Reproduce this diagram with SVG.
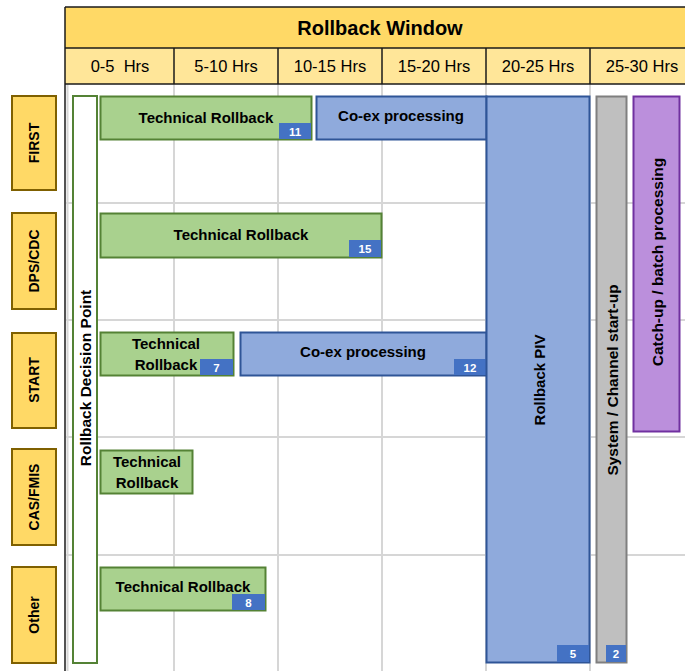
<svg xmlns="http://www.w3.org/2000/svg" width="685" height="671" viewBox="0 0 685 671">
  <style>
    text { font-family: "Liberation Sans", Arial, sans-serif; fill: #000; }
    .title { font-size: 20px; font-weight: bold; text-anchor: middle; }
    .col { font-size: 16.5px; text-anchor: middle; white-space: pre; }
    .lbl { font-size: 15px; font-weight: bold; text-anchor: middle; }
    .vlbl { font-size: 15.5px; font-weight: bold; text-anchor: middle; }
    .row { font-size: 14px; font-weight: bold; text-anchor: middle; }
    .badge-t { font-size: 11.5px; font-weight: bold; fill: #fff; text-anchor: middle; }
    .grid { stroke: #d6d6d6; stroke-width: 2; fill: none; }
    .hdr { stroke: #1a1a1a; stroke-width: 1.5; }
    .rowbox { fill: #ffd966; stroke: #7f6000; stroke-width: 2; }
    .green { fill: #a9d18e; stroke: #548235; stroke-width: 2; }
    .blue { fill: #8faadc; stroke: #2f5597; stroke-width: 2; }
    .grey { fill: #bfbfbf; stroke: #7f7f7f; stroke-width: 2; }
    .purple { fill: #bb8fdc; stroke: #7030a0; stroke-width: 2; }
    .badge { fill: #4472c4; }
  </style>

  <rect x="0" y="0" width="685" height="671" fill="#fff"/>

  <!-- background grid -->
  <g id="grid">
    <line class="grid" x1="67.5" y1="84" x2="67.5" y2="671"/>
    <line class="grid" x1="174" y1="84" x2="174" y2="671"/>
    <line class="grid" x1="278" y1="84" x2="278" y2="671"/>
    <line class="grid" x1="382" y1="84" x2="382" y2="671"/>
    <line class="grid" x1="486" y1="84" x2="486" y2="671"/>
    <line class="grid" x1="590" y1="84" x2="590" y2="671"/>
    <line class="grid" x1="66" y1="203" x2="685" y2="203"/>
    <line class="grid" x1="66" y1="320" x2="685" y2="320"/>
    <line class="grid" x1="66" y1="437" x2="685" y2="437"/>
    <line class="grid" x1="66" y1="555" x2="685" y2="555"/>
  </g>

  <!-- header: title band and time columns -->
  <g id="header">
    <rect x="65" y="7" width="625" height="41" fill="#ffd966"/>
    <rect x="65" y="48" width="625" height="36" fill="#ffe699"/>
    <line class="hdr" x1="65" y1="7" x2="685" y2="7"/>
    <line class="hdr" x1="65" y1="48" x2="685" y2="48"/>
    <line class="hdr" x1="65" y1="84" x2="685" y2="84"/>
    <line class="hdr" x1="65" y1="7" x2="65" y2="671"/>
    <line class="hdr" x1="174" y1="48" x2="174" y2="84"/>
    <line class="hdr" x1="278" y1="48" x2="278" y2="84"/>
    <line class="hdr" x1="382" y1="48" x2="382" y2="84"/>
    <line class="hdr" x1="486" y1="48" x2="486" y2="84"/>
    <line class="hdr" x1="590" y1="48" x2="590" y2="84"/>
    <text class="title" x="380" y="35">Rollback Window</text>
    <text class="col" x="120" y="72">0-5  Hrs</text>
    <text class="col" x="226" y="72">5-10 Hrs</text>
    <text class="col" x="330" y="72">10-15 Hrs</text>
    <text class="col" x="434" y="72">15-20 Hrs</text>
    <text class="col" x="538" y="72">20-25 Hrs</text>
    <text class="col" x="642" y="72">25-30 Hrs</text>
  </g>

  <!-- row labels -->
  <g id="row-first">
    <rect class="rowbox" x="12" y="96" width="44" height="94"/>
    <text class="row" transform="translate(34,143) rotate(-90)" y="5">FIRST</text>
  </g>
  <g id="row-dps-cdc">
    <rect class="rowbox" x="12" y="213" width="44" height="96"/>
    <text class="row" transform="translate(34,261) rotate(-90)" y="5">DPS/CDC</text>
  </g>
  <g id="row-start">
    <rect class="rowbox" x="12" y="333" width="44" height="95"/>
    <text class="row" transform="translate(34,380) rotate(-90)" y="5">START</text>
  </g>
  <g id="row-cas-fmis">
    <rect class="rowbox" x="12" y="449" width="44" height="96"/>
    <text class="row" transform="translate(34,497) rotate(-90)" y="5">CAS/FMIS</text>
  </g>
  <g id="row-other">
    <rect class="rowbox" x="12" y="567" width="44" height="96"/>
    <text class="row" transform="translate(34,615) rotate(-90)" y="5">Other</text>
  </g>

  <!-- decision point spanning all rows -->
  <g id="decision-point">
    <rect x="73" y="96" width="24" height="567" fill="#fff" stroke="#548235" stroke-width="2"/>
    <text class="vlbl" transform="translate(85,378) rotate(-90)" y="5.5">Rollback Decision Point</text>
  </g>

  <!-- FIRST row -->
  <g id="first-tech-rollback">
    <rect class="green" x="100.5" y="96.5" width="211" height="43"/>
    <text class="lbl" x="206" y="123">Technical Rollback</text>
    <rect class="badge" x="279" y="123" width="32" height="16"/>
    <text class="badge-t" x="295" y="135.5">11</text>
  </g>
  <g id="first-coex">
    <rect class="blue" x="316.5" y="96.5" width="170" height="43"/>
    <text class="lbl" x="401" y="121">Co-ex processing</text>
  </g>

  <!-- DPS/CDC row -->
  <g id="dps-tech-rollback">
    <rect class="green" x="100.5" y="213.5" width="281" height="44"/>
    <text class="lbl" x="241" y="240">Technical Rollback</text>
    <rect class="badge" x="349" y="240" width="32" height="17"/>
    <text class="badge-t" x="365" y="253">15</text>
  </g>

  <!-- START row -->
  <g id="start-tech-rollback">
    <rect class="green" x="100.5" y="332.5" width="133" height="43"/>
    <text class="lbl" x="166" y="349">Technical</text>
    <text class="lbl" x="166" y="370">Rollback</text>
    <rect class="badge" x="200" y="359" width="33" height="16"/>
    <text class="badge-t" x="216.5" y="371.5">7</text>
  </g>
  <g id="start-coex">
    <rect class="blue" x="240.5" y="332.5" width="246" height="43"/>
    <text class="lbl" x="363" y="357">Co-ex processing</text>
    <rect class="badge" x="454" y="359" width="32" height="16"/>
    <text class="badge-t" x="470" y="371.5">12</text>
  </g>

  <!-- CAS/FMIS row -->
  <g id="cas-tech-rollback">
    <rect class="green" x="100.5" y="450.5" width="92" height="43"/>
    <text class="lbl" x="147" y="467">Technical</text>
    <text class="lbl" x="147" y="488">Rollback</text>
  </g>

  <!-- Other row -->
  <g id="other-tech-rollback">
    <rect class="green" x="100.5" y="567.5" width="165" height="43"/>
    <text class="lbl" x="183" y="592">Technical Rollback</text>
    <rect class="badge" x="232" y="594" width="33" height="16"/>
    <text class="badge-t" x="248.5" y="606.5">8</text>
  </g>

  <!-- activities spanning all rows -->
  <g id="rollback-piv">
    <rect class="blue" x="486.5" y="96.5" width="103" height="566"/>
    <text class="lbl" transform="translate(539,380) rotate(-90)" y="5.5">Rollback PIV</text>
    <rect class="badge" x="557" y="645" width="32" height="17"/>
    <text class="badge-t" x="573" y="658">5</text>
  </g>
  <g id="system-startup">
    <rect class="grey" x="596.5" y="96.5" width="30" height="566"/>
    <text class="vlbl" transform="translate(612,380) rotate(-90)" y="5.5">System / Channel start-up</text>
    <rect class="badge" x="606" y="645" width="20" height="17"/>
    <text class="badge-t" x="616" y="658">2</text>
  </g>
  <g id="catch-up">
    <rect class="purple" x="633.5" y="96.5" width="46" height="335"/>
    <text class="vlbl" transform="translate(657,262) rotate(-90)" y="5.5">Catch-up / batch processing</text>
  </g>
</svg>
